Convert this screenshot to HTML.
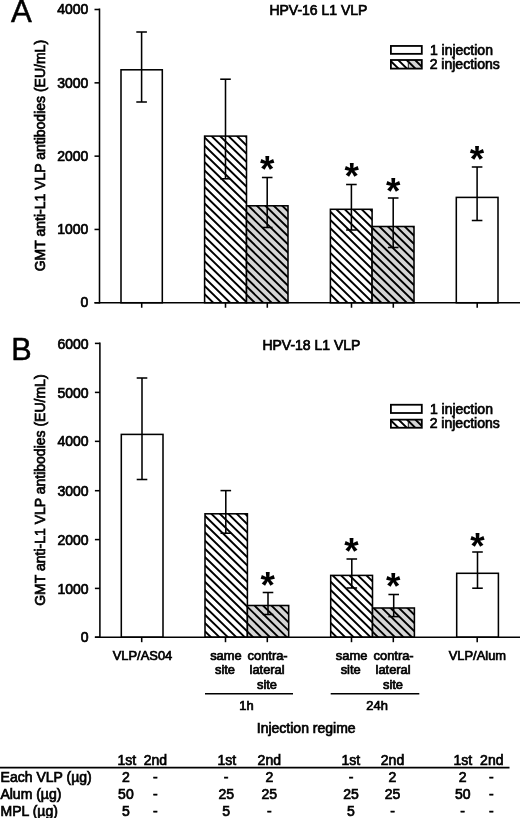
<!DOCTYPE html>
<html lang="en"><head><meta charset="utf-8"><title>Figure</title>
<style>
html,body{margin:0;padding:0;background:#fff;}
body{width:520px;height:818px;overflow:hidden;}
svg{display:block;will-change:transform;font-family:"Liberation Sans",sans-serif;fill:#000;}
</style></head><body>
<svg width="520" height="818" viewBox="0 0 520 818">
<rect width="520" height="818" fill="#fff"/>
<text x="10.9" y="21.6" font-size="31.2" stroke="#000" stroke-width="0.5">A</text>
<text x="269.4" y="14.6" font-size="14" stroke="#000" stroke-width="0.7">HPV-16 L1 VLP</text>
<text x="44.6" y="271.3" font-size="14" transform="rotate(-90 44.6 271.3)" stroke="#000" stroke-width="0.7">GMT anti-L1 VLP antibodies (EU/mL)</text>
<rect x="121.0" y="69.8" width="41.3" height="232.95" fill="#fff" stroke="#000" stroke-width="1.55"/>
<clipPath id="c1"><rect x="204.6" y="136.1" width="41.9" height="166.65"/></clipPath>
<rect x="204.6" y="136.1" width="41.9" height="166.65" fill="#fff"/>
<path d="M201.60 76.83L249.50 123.58M201.60 85.08L249.50 131.83M201.60 93.33L249.50 140.08M201.60 101.58L249.50 148.33M201.60 109.83L249.50 156.58M201.60 118.08L249.50 164.83M201.60 126.33L249.50 173.08M201.60 134.58L249.50 181.33M201.60 142.83L249.50 189.58M201.60 151.08L249.50 197.83M201.60 159.33L249.50 206.08M201.60 167.58L249.50 214.33M201.60 175.83L249.50 222.58M201.60 184.08L249.50 230.83M201.60 192.33L249.50 239.08M201.60 200.58L249.50 247.33M201.60 208.83L249.50 255.58M201.60 217.08L249.50 263.83M201.60 225.33L249.50 272.08M201.60 233.58L249.50 280.33M201.60 241.83L249.50 288.58M201.60 250.08L249.50 296.83M201.60 258.33L249.50 305.08M201.60 266.58L249.50 313.33M201.60 274.83L249.50 321.58M201.60 283.08L249.50 329.83M201.60 291.33L249.50 338.08M201.60 299.58L249.50 346.33M201.60 307.83L249.50 354.58M201.60 316.08L249.50 362.83" stroke="#000" stroke-width="1.9" fill="none" clip-path="url(#c1)"/>
<rect x="204.6" y="136.1" width="41.9" height="166.65" fill="none" stroke="#000" stroke-width="1.55"/>
<clipPath id="c2"><rect x="246.5" y="205.8" width="41.5" height="96.95"/></clipPath>
<rect x="246.5" y="205.8" width="41.5" height="96.95" fill="#d5d5d5"/>
<path d="M243.50 143.21L291.00 189.57M243.50 151.46L291.00 197.82M243.50 159.71L291.00 206.07M243.50 167.96L291.00 214.32M243.50 176.21L291.00 222.57M243.50 184.46L291.00 230.82M243.50 192.71L291.00 239.07M243.50 200.96L291.00 247.32M243.50 209.21L291.00 255.57M243.50 217.46L291.00 263.82M243.50 225.71L291.00 272.07M243.50 233.96L291.00 280.32M243.50 242.21L291.00 288.57M243.50 250.46L291.00 296.82M243.50 258.71L291.00 305.07M243.50 266.96L291.00 313.32M243.50 275.21L291.00 321.57M243.50 283.46L291.00 329.82M243.50 291.71L291.00 338.07M243.50 299.96L291.00 346.32M243.50 308.21L291.00 354.57M243.50 316.46L291.00 362.82" stroke="#000" stroke-width="1.9" fill="none" clip-path="url(#c2)"/>
<rect x="246.5" y="205.8" width="41.5" height="96.95" fill="none" stroke="#000" stroke-width="1.55"/>
<clipPath id="c3"><rect x="330.4" y="209.3" width="41.7" height="93.45"/></clipPath>
<rect x="330.4" y="209.3" width="41.7" height="93.45" fill="#fff"/>
<path d="M327.40 151.13L375.10 197.68M327.40 159.38L375.10 205.93M327.40 167.63L375.10 214.18M327.40 175.88L375.10 222.43M327.40 184.13L375.10 230.68M327.40 192.38L375.10 238.93M327.40 200.63L375.10 247.18M327.40 208.88L375.10 255.43M327.40 217.13L375.10 263.68M327.40 225.38L375.10 271.93M327.40 233.63L375.10 280.18M327.40 241.88L375.10 288.43M327.40 250.13L375.10 296.68M327.40 258.38L375.10 304.93M327.40 266.63L375.10 313.18M327.40 274.88L375.10 321.43M327.40 283.13L375.10 329.68M327.40 291.38L375.10 337.93M327.40 299.63L375.10 346.18M327.40 307.88L375.10 354.43M327.40 316.13L375.10 362.68" stroke="#000" stroke-width="1.9" fill="none" clip-path="url(#c3)"/>
<rect x="330.4" y="209.3" width="41.7" height="93.45" fill="none" stroke="#000" stroke-width="1.55"/>
<clipPath id="c4"><rect x="372.1" y="226.5" width="41.9" height="76.25"/></clipPath>
<rect x="372.1" y="226.5" width="41.9" height="76.25" fill="#d5d5d5"/>
<path d="M369.10 166.98L417.00 213.73M369.10 175.23L417.00 221.98M369.10 183.48L417.00 230.23M369.10 191.73L417.00 238.48M369.10 199.98L417.00 246.73M369.10 208.23L417.00 254.98M369.10 216.48L417.00 263.23M369.10 224.73L417.00 271.48M369.10 232.98L417.00 279.73M369.10 241.23L417.00 287.98M369.10 249.48L417.00 296.23M369.10 257.73L417.00 304.48M369.10 265.98L417.00 312.73M369.10 274.23L417.00 320.98M369.10 282.48L417.00 329.23M369.10 290.73L417.00 337.48M369.10 298.98L417.00 345.73M369.10 307.23L417.00 353.98M369.10 315.48L417.00 362.23" stroke="#000" stroke-width="1.9" fill="none" clip-path="url(#c4)"/>
<rect x="372.1" y="226.5" width="41.9" height="76.25" fill="none" stroke="#000" stroke-width="1.55"/>
<rect x="456.3" y="197.4" width="41.7" height="105.35" fill="#fff" stroke="#000" stroke-width="1.55"/>
<line x1="99.5" y1="8.525" x2="99.5" y2="303.525" stroke="#000" stroke-width="1.55"/>
<line x1="94.5" y1="302.75" x2="520" y2="302.75" stroke="#000" stroke-width="1.55"/>
<line x1="94.5" y1="9.5" x2="99.5" y2="9.5" stroke="#000" stroke-width="1.55"/>
<text x="88.3" y="14.2" font-size="14" text-anchor="end" stroke="#000" stroke-width="0.7">4000</text>
<line x1="94.5" y1="82.85" x2="99.5" y2="82.85" stroke="#000" stroke-width="1.55"/>
<text x="88.3" y="87.55" font-size="14" text-anchor="end" stroke="#000" stroke-width="0.7">3000</text>
<line x1="94.5" y1="156.15" x2="99.5" y2="156.15" stroke="#000" stroke-width="1.55"/>
<text x="88.3" y="160.85" font-size="14" text-anchor="end" stroke="#000" stroke-width="0.7">2000</text>
<line x1="94.5" y1="229.45" x2="99.5" y2="229.45" stroke="#000" stroke-width="1.55"/>
<text x="88.3" y="234.14999999999998" font-size="14" text-anchor="end" stroke="#000" stroke-width="0.7">1000</text>
<line x1="94.5" y1="302.75" x2="99.5" y2="302.75" stroke="#000" stroke-width="1.55"/>
<text x="88.3" y="307.45" font-size="14" text-anchor="end" stroke="#000" stroke-width="0.7">0</text>
<line x1="141.7" y1="302.75" x2="141.7" y2="307.75" stroke="#000" stroke-width="1.55"/>
<line x1="225.5" y1="302.75" x2="225.5" y2="307.75" stroke="#000" stroke-width="1.55"/>
<line x1="267.3" y1="302.75" x2="267.3" y2="307.75" stroke="#000" stroke-width="1.55"/>
<line x1="351.5" y1="302.75" x2="351.5" y2="307.75" stroke="#000" stroke-width="1.55"/>
<line x1="393.3" y1="302.75" x2="393.3" y2="307.75" stroke="#000" stroke-width="1.55"/>
<line x1="477.2" y1="302.75" x2="477.2" y2="307.75" stroke="#000" stroke-width="1.55"/>
<line x1="141.6" y1="32" x2="141.6" y2="102" stroke="#000" stroke-width="1.55"/>
<line x1="136.29999999999998" y1="32" x2="146.9" y2="32" stroke="#000" stroke-width="1.55"/>
<line x1="136.29999999999998" y1="102" x2="146.9" y2="102" stroke="#000" stroke-width="1.55"/>
<line x1="225.5" y1="79.2" x2="225.5" y2="178.8" stroke="#000" stroke-width="1.55"/>
<line x1="220.2" y1="79.2" x2="230.8" y2="79.2" stroke="#000" stroke-width="1.55"/>
<line x1="220.2" y1="178.8" x2="230.8" y2="178.8" stroke="#000" stroke-width="1.55"/>
<line x1="267.2" y1="177.5" x2="267.2" y2="227.5" stroke="#000" stroke-width="1.55"/>
<line x1="261.9" y1="177.5" x2="272.5" y2="177.5" stroke="#000" stroke-width="1.55"/>
<line x1="261.9" y1="227.5" x2="272.5" y2="227.5" stroke="#000" stroke-width="1.55"/>
<line x1="351.4" y1="184.5" x2="351.4" y2="230" stroke="#000" stroke-width="1.55"/>
<line x1="346.09999999999997" y1="184.5" x2="356.7" y2="184.5" stroke="#000" stroke-width="1.55"/>
<line x1="346.09999999999997" y1="230" x2="356.7" y2="230" stroke="#000" stroke-width="1.55"/>
<line x1="393.2" y1="198" x2="393.2" y2="247.5" stroke="#000" stroke-width="1.55"/>
<line x1="387.9" y1="198" x2="398.5" y2="198" stroke="#000" stroke-width="1.55"/>
<line x1="387.9" y1="247.5" x2="398.5" y2="247.5" stroke="#000" stroke-width="1.55"/>
<line x1="477.1" y1="167" x2="477.1" y2="220.5" stroke="#000" stroke-width="1.55"/>
<line x1="471.8" y1="167" x2="482.40000000000003" y2="167" stroke="#000" stroke-width="1.55"/>
<line x1="471.8" y1="220.5" x2="482.40000000000003" y2="220.5" stroke="#000" stroke-width="1.55"/>
<text x="267.2" y="182.25" font-size="37" text-anchor="middle" font-weight="bold">*</text>
<text x="351.6" y="189.25" font-size="37" text-anchor="middle" font-weight="bold">*</text>
<text x="393.2" y="203.55" font-size="37" text-anchor="middle" font-weight="bold">*</text>
<text x="476.9" y="172.0" font-size="37" text-anchor="middle" font-weight="bold">*</text>
<rect x="390.9" y="45.95" width="30.9" height="7.9" fill="#fff" stroke="#000" stroke-width="1.8"/>
<clipPath id="c5"><rect x="390.9" y="60.0" width="17.4" height="8.6"/></clipPath>
<rect x="390.9" y="60.0" width="17.4" height="8.6" fill="#fff"/>
<path d="M387.90 25.26L411.30 48.10M387.90 33.51L411.30 56.35M387.90 41.76L411.30 64.60M387.90 50.01L411.30 72.85M387.90 58.26L411.30 81.10M387.90 66.51L411.30 89.35M387.90 74.76L411.30 97.60M387.90 83.01L411.30 105.85" stroke="#000" stroke-width="1.9" fill="none" clip-path="url(#c5)"/>
<clipPath id="c6"><rect x="408.3" y="60.0" width="13.5" height="8.6"/></clipPath>
<rect x="408.3" y="60.0" width="13.5" height="8.6" fill="#d5d5d5"/>
<path d="M405.30 25.75L424.80 44.79M405.30 34.00L424.80 53.04M405.30 42.25L424.80 61.29M405.30 50.50L424.80 69.54M405.30 58.75L424.80 77.79M405.30 67.00L424.80 86.04M405.30 75.25L424.80 94.29M405.30 83.50L424.80 102.54" stroke="#000" stroke-width="1.9" fill="none" clip-path="url(#c6)"/>
<line x1="408.3" y1="60.0" x2="408.3" y2="68.6" stroke="#000" stroke-width="0.9"/>
<rect x="390.9" y="60.0" width="30.9" height="8.6" fill="none" stroke="#000" stroke-width="1.8"/>
<text x="429.9" y="54.7" font-size="14" stroke="#000" stroke-width="0.7">1 injection</text>
<text x="429.7" y="69.0" font-size="14" stroke="#000" stroke-width="0.7">2 injections</text>
<text x="11.2" y="359.5" font-size="30.6" stroke="#000" stroke-width="0.5">B</text>
<text x="262.4" y="350.0" font-size="14" stroke="#000" stroke-width="0.7">HPV-18 L1 VLP</text>
<text x="44.6" y="605.8" font-size="14" transform="rotate(-90 44.6 605.8)" stroke="#000" stroke-width="0.7">GMT anti-L1 VLP antibodies (EU/mL)</text>
<rect x="121.3" y="434.4" width="41.7" height="202.8" fill="#fff" stroke="#000" stroke-width="1.55"/>
<clipPath id="c7"><rect x="205.0" y="513.8" width="42.4" height="123.4"/></clipPath>
<rect x="205.0" y="513.8" width="42.4" height="123.4" fill="#fff"/>
<path d="M202.00 455.16L250.40 502.40M202.00 463.41L250.40 510.65M202.00 471.66L250.40 518.90M202.00 479.91L250.40 527.15M202.00 488.16L250.40 535.40M202.00 496.41L250.40 543.65M202.00 504.66L250.40 551.90M202.00 512.91L250.40 560.15M202.00 521.16L250.40 568.40M202.00 529.41L250.40 576.65M202.00 537.66L250.40 584.90M202.00 545.91L250.40 593.15M202.00 554.16L250.40 601.40M202.00 562.41L250.40 609.65M202.00 570.66L250.40 617.90M202.00 578.91L250.40 626.15M202.00 587.16L250.40 634.40M202.00 595.41L250.40 642.65M202.00 603.66L250.40 650.90M202.00 611.91L250.40 659.15M202.00 620.16L250.40 667.40M202.00 628.41L250.40 675.65M202.00 636.66L250.40 683.90M202.00 644.91L250.40 692.15M202.00 653.16L250.40 700.40" stroke="#000" stroke-width="1.9" fill="none" clip-path="url(#c7)"/>
<rect x="205.0" y="513.8" width="42.4" height="123.4" fill="none" stroke="#000" stroke-width="1.55"/>
<clipPath id="c8"><rect x="247.4" y="605.5" width="41.3" height="31.7"/></clipPath>
<rect x="247.4" y="605.5" width="41.3" height="31.7" fill="#d5d5d5"/>
<path d="M244.40 546.18L291.70 592.35M244.40 554.43L291.70 600.60M244.40 562.68L291.70 608.85M244.40 570.93L291.70 617.10M244.40 579.18L291.70 625.35M244.40 587.43L291.70 633.60M244.40 595.68L291.70 641.85M244.40 603.93L291.70 650.10M244.40 612.18L291.70 658.35M244.40 620.43L291.70 666.60M244.40 628.68L291.70 674.85M244.40 636.93L291.70 683.10M244.40 645.18L291.70 691.35M244.40 653.43L291.70 699.60" stroke="#000" stroke-width="1.9" fill="none" clip-path="url(#c8)"/>
<rect x="247.4" y="605.5" width="41.3" height="31.7" fill="none" stroke="#000" stroke-width="1.55"/>
<clipPath id="c9"><rect x="330.7" y="575.4" width="41.8" height="61.8"/></clipPath>
<rect x="330.7" y="575.4" width="41.8" height="61.8" fill="#fff"/>
<path d="M327.70 512.87L375.50 559.52M327.70 521.12L375.50 567.77M327.70 529.37L375.50 576.02M327.70 537.62L375.50 584.27M327.70 545.87L375.50 592.52M327.70 554.12L375.50 600.77M327.70 562.37L375.50 609.02M327.70 570.62L375.50 617.27M327.70 578.87L375.50 625.52M327.70 587.12L375.50 633.77M327.70 595.37L375.50 642.02M327.70 603.62L375.50 650.27M327.70 611.87L375.50 658.52M327.70 620.12L375.50 666.77M327.70 628.37L375.50 675.02M327.70 636.62L375.50 683.27M327.70 644.87L375.50 691.52M327.70 653.12L375.50 699.77" stroke="#000" stroke-width="1.9" fill="none" clip-path="url(#c9)"/>
<rect x="330.7" y="575.4" width="41.8" height="61.8" fill="none" stroke="#000" stroke-width="1.55"/>
<clipPath id="c10"><rect x="372.5" y="608.0" width="41.9" height="29.2"/></clipPath>
<rect x="372.5" y="608.0" width="41.9" height="29.2" fill="#d5d5d5"/>
<path d="M369.50 546.27L417.40 593.02M369.50 554.52L417.40 601.27M369.50 562.77L417.40 609.52M369.50 571.02L417.40 617.77M369.50 579.27L417.40 626.02M369.50 587.52L417.40 634.27M369.50 595.77L417.40 642.52M369.50 604.02L417.40 650.77M369.50 612.27L417.40 659.02M369.50 620.52L417.40 667.27M369.50 628.77L417.40 675.52M369.50 637.02L417.40 683.77M369.50 645.27L417.40 692.02M369.50 653.52L417.40 700.27" stroke="#000" stroke-width="1.9" fill="none" clip-path="url(#c10)"/>
<rect x="372.5" y="608.0" width="41.9" height="29.2" fill="none" stroke="#000" stroke-width="1.55"/>
<rect x="456.7" y="573.3" width="41.7" height="63.9" fill="#fff" stroke="#000" stroke-width="1.55"/>
<line x1="99.9" y1="342.52500000000003" x2="99.9" y2="637.975" stroke="#000" stroke-width="1.55"/>
<line x1="94.9" y1="637.2" x2="520" y2="637.2" stroke="#000" stroke-width="1.55"/>
<line x1="94.9" y1="343.4" x2="99.9" y2="343.4" stroke="#000" stroke-width="1.55"/>
<text x="88.6" y="348.5" font-size="14" text-anchor="end" stroke="#000" stroke-width="0.7">6000</text>
<line x1="94.9" y1="392.4" x2="99.9" y2="392.4" stroke="#000" stroke-width="1.55"/>
<text x="88.6" y="397.5" font-size="14" text-anchor="end" stroke="#000" stroke-width="0.7">5000</text>
<line x1="94.9" y1="441.35" x2="99.9" y2="441.35" stroke="#000" stroke-width="1.55"/>
<text x="88.6" y="446.45000000000005" font-size="14" text-anchor="end" stroke="#000" stroke-width="0.7">4000</text>
<line x1="94.9" y1="490.7" x2="99.9" y2="490.7" stroke="#000" stroke-width="1.55"/>
<text x="88.6" y="495.8" font-size="14" text-anchor="end" stroke="#000" stroke-width="0.7">3000</text>
<line x1="94.9" y1="539.6" x2="99.9" y2="539.6" stroke="#000" stroke-width="1.55"/>
<text x="88.6" y="544.7" font-size="14" text-anchor="end" stroke="#000" stroke-width="0.7">2000</text>
<line x1="94.9" y1="588.4" x2="99.9" y2="588.4" stroke="#000" stroke-width="1.55"/>
<text x="88.6" y="593.5" font-size="14" text-anchor="end" stroke="#000" stroke-width="0.7">1000</text>
<line x1="94.9" y1="637.2" x2="99.9" y2="637.2" stroke="#000" stroke-width="1.55"/>
<text x="88.6" y="642.3000000000001" font-size="14" text-anchor="end" stroke="#000" stroke-width="0.7">0</text>
<line x1="141.7" y1="637.2" x2="141.7" y2="642.2" stroke="#000" stroke-width="1.55"/>
<line x1="225.5" y1="637.2" x2="225.5" y2="642.2" stroke="#000" stroke-width="1.55"/>
<line x1="267.3" y1="637.2" x2="267.3" y2="642.2" stroke="#000" stroke-width="1.55"/>
<line x1="351.5" y1="637.2" x2="351.5" y2="642.2" stroke="#000" stroke-width="1.55"/>
<line x1="393.3" y1="637.2" x2="393.3" y2="642.2" stroke="#000" stroke-width="1.55"/>
<line x1="477.2" y1="637.2" x2="477.2" y2="642.2" stroke="#000" stroke-width="1.55"/>
<line x1="142" y1="378" x2="142" y2="479.5" stroke="#000" stroke-width="1.55"/>
<line x1="136.7" y1="378" x2="147.3" y2="378" stroke="#000" stroke-width="1.55"/>
<line x1="136.7" y1="479.5" x2="147.3" y2="479.5" stroke="#000" stroke-width="1.55"/>
<line x1="225.8" y1="490.6" x2="225.8" y2="533.2" stroke="#000" stroke-width="1.55"/>
<line x1="220.5" y1="490.6" x2="231.10000000000002" y2="490.6" stroke="#000" stroke-width="1.55"/>
<line x1="220.5" y1="533.2" x2="231.10000000000002" y2="533.2" stroke="#000" stroke-width="1.55"/>
<line x1="268" y1="592.5" x2="268" y2="614.5" stroke="#000" stroke-width="1.55"/>
<line x1="262.7" y1="592.5" x2="273.3" y2="592.5" stroke="#000" stroke-width="1.55"/>
<line x1="262.7" y1="614.5" x2="273.3" y2="614.5" stroke="#000" stroke-width="1.55"/>
<line x1="351.8" y1="559" x2="351.8" y2="588" stroke="#000" stroke-width="1.55"/>
<line x1="346.5" y1="559" x2="357.1" y2="559" stroke="#000" stroke-width="1.55"/>
<line x1="346.5" y1="588" x2="357.1" y2="588" stroke="#000" stroke-width="1.55"/>
<line x1="393.7" y1="594.5" x2="393.7" y2="616.6" stroke="#000" stroke-width="1.55"/>
<line x1="388.4" y1="594.5" x2="399.0" y2="594.5" stroke="#000" stroke-width="1.55"/>
<line x1="388.4" y1="616.6" x2="399.0" y2="616.6" stroke="#000" stroke-width="1.55"/>
<line x1="477.5" y1="552" x2="477.5" y2="588.2" stroke="#000" stroke-width="1.55"/>
<line x1="472.2" y1="552" x2="482.8" y2="552" stroke="#000" stroke-width="1.55"/>
<line x1="472.2" y1="588.2" x2="482.8" y2="588.2" stroke="#000" stroke-width="1.55"/>
<text x="267.6" y="597.5" font-size="37" text-anchor="middle" font-weight="bold">*</text>
<text x="351.4" y="564.25" font-size="37" text-anchor="middle" font-weight="bold">*</text>
<text x="393.2" y="599.25" font-size="37" text-anchor="middle" font-weight="bold">*</text>
<text x="477.5" y="558.8" font-size="37" text-anchor="middle" font-weight="bold">*</text>
<rect x="390.9" y="404.75" width="30.9" height="8.25" fill="#fff" stroke="#000" stroke-width="1.8"/>
<clipPath id="c11"><rect x="390.9" y="419.65" width="17.4" height="8.1"/></clipPath>
<rect x="390.9" y="419.65" width="17.4" height="8.1" fill="#fff"/>
<path d="M387.90 384.51L411.30 407.35M387.90 392.76L411.30 415.60M387.90 401.01L411.30 423.85M387.90 409.26L411.30 432.10M387.90 417.51L411.30 440.35M387.90 425.76L411.30 448.60M387.90 434.01L411.30 456.85M387.90 442.26L411.30 465.10" stroke="#000" stroke-width="1.9" fill="none" clip-path="url(#c11)"/>
<clipPath id="c12"><rect x="408.3" y="419.65" width="13.5" height="8.1"/></clipPath>
<rect x="408.3" y="419.65" width="13.5" height="8.1" fill="#d5d5d5"/>
<path d="M405.30 385.00L424.80 404.04M405.30 393.25L424.80 412.29M405.30 401.50L424.80 420.54M405.30 409.75L424.80 428.79M405.30 418.00L424.80 437.04M405.30 426.25L424.80 445.29M405.30 434.50L424.80 453.54M405.30 442.75L424.80 461.79" stroke="#000" stroke-width="1.9" fill="none" clip-path="url(#c12)"/>
<line x1="408.3" y1="419.65" x2="408.3" y2="427.75" stroke="#000" stroke-width="0.9"/>
<rect x="390.9" y="419.65" width="30.9" height="8.1" fill="none" stroke="#000" stroke-width="1.8"/>
<text x="429.9" y="413.6" font-size="14" stroke="#000" stroke-width="0.7">1 injection</text>
<text x="429.7" y="428.0" font-size="14" stroke="#000" stroke-width="0.7">2 injections</text>
<text x="142.5" y="660" font-size="12.9" text-anchor="middle" stroke="#000" stroke-width="0.7">VLP/AS04</text>
<text x="477.4" y="659.6" font-size="12.9" text-anchor="middle" stroke="#000" stroke-width="0.7">VLP/Alum</text>
<text x="225.9" y="659.5" font-size="12.9" text-anchor="middle" stroke="#000" stroke-width="0.7">same</text>
<text x="225.0" y="674.2" font-size="12.9" text-anchor="middle" stroke="#000" stroke-width="0.7">site</text>
<text x="351.6" y="659.5" font-size="12.9" text-anchor="middle" stroke="#000" stroke-width="0.7">same</text>
<text x="350.70000000000005" y="674.2" font-size="12.9" text-anchor="middle" stroke="#000" stroke-width="0.7">site</text>
<text x="267.6" y="659.5" font-size="12.9" text-anchor="middle" stroke="#000" stroke-width="0.7">contra-</text>
<text x="267.1" y="674.2" font-size="12.9" text-anchor="middle" stroke="#000" stroke-width="0.7">lateral</text>
<text x="267.0" y="688.8" font-size="12.9" text-anchor="middle" stroke="#000" stroke-width="0.7">site</text>
<text x="393.6" y="659.5" font-size="12.9" text-anchor="middle" stroke="#000" stroke-width="0.7">contra-</text>
<text x="393.1" y="674.2" font-size="12.9" text-anchor="middle" stroke="#000" stroke-width="0.7">lateral</text>
<text x="393.0" y="688.8" font-size="12.9" text-anchor="middle" stroke="#000" stroke-width="0.7">site</text>
<line x1="205" y1="693.8" x2="293" y2="693.8" stroke="#000" stroke-width="1.55"/>
<line x1="330.7" y1="693.8" x2="419.3" y2="693.8" stroke="#000" stroke-width="1.55"/>
<text x="246.5" y="709.6" font-size="12.9" text-anchor="middle" stroke="#000" stroke-width="0.7">1h</text>
<text x="377.1" y="709.6" font-size="12.9" text-anchor="middle" stroke="#000" stroke-width="0.7">24h</text>
<text x="256.8" y="733" font-size="14" stroke="#000" stroke-width="0.7">Injection regime</text>
<line x1="0" y1="767.6" x2="509.5" y2="767.6" stroke="#000" stroke-width="1.55"/>
<text x="126.9" y="764.6" font-size="14" text-anchor="middle" stroke="#000" stroke-width="0.7">1st</text>
<text x="155.4" y="764.6" font-size="14" text-anchor="middle" stroke="#000" stroke-width="0.7">2nd</text>
<text x="226.9" y="764.6" font-size="14" text-anchor="middle" stroke="#000" stroke-width="0.7">1st</text>
<text x="269.3" y="764.6" font-size="14" text-anchor="middle" stroke="#000" stroke-width="0.7">2nd</text>
<text x="350.9" y="764.6" font-size="14" text-anchor="middle" stroke="#000" stroke-width="0.7">1st</text>
<text x="392.5" y="764.6" font-size="14" text-anchor="middle" stroke="#000" stroke-width="0.7">2nd</text>
<text x="462.9" y="764.6" font-size="14" text-anchor="middle" stroke="#000" stroke-width="0.7">1st</text>
<text x="491.8" y="764.6" font-size="14" text-anchor="middle" stroke="#000" stroke-width="0.7">2nd</text>
<text x="0.6" y="781.8" font-size="14" stroke="#000" stroke-width="0.7">Each VLP (µg)</text>
<text x="0.4" y="799.2" font-size="14" stroke="#000" stroke-width="0.7">Alum (µg)</text>
<text x="0.5" y="816.1" font-size="14" stroke="#000" stroke-width="0.7">MPL (µg)</text>
<text x="125.9" y="781.8" font-size="14" text-anchor="middle" stroke="#000" stroke-width="0.7">2</text>
<text x="155.4" y="781.8" font-size="14" text-anchor="middle" stroke="#000" stroke-width="0.7">-</text>
<text x="226.2" y="781.8" font-size="14" text-anchor="middle" stroke="#000" stroke-width="0.7">-</text>
<text x="269.3" y="781.8" font-size="14" text-anchor="middle" stroke="#000" stroke-width="0.7">2</text>
<text x="351.0" y="781.8" font-size="14" text-anchor="middle" stroke="#000" stroke-width="0.7">-</text>
<text x="392.5" y="781.8" font-size="14" text-anchor="middle" stroke="#000" stroke-width="0.7">2</text>
<text x="462.7" y="781.8" font-size="14" text-anchor="middle" stroke="#000" stroke-width="0.7">2</text>
<text x="491.3" y="781.8" font-size="14" text-anchor="middle" stroke="#000" stroke-width="0.7">-</text>
<text x="125.9" y="799.1" font-size="14" text-anchor="middle" stroke="#000" stroke-width="0.7">50</text>
<text x="155.4" y="799.1" font-size="14" text-anchor="middle" stroke="#000" stroke-width="0.7">-</text>
<text x="226.2" y="799.1" font-size="14" text-anchor="middle" stroke="#000" stroke-width="0.7">25</text>
<text x="269.3" y="799.1" font-size="14" text-anchor="middle" stroke="#000" stroke-width="0.7">25</text>
<text x="351.0" y="799.1" font-size="14" text-anchor="middle" stroke="#000" stroke-width="0.7">25</text>
<text x="392.5" y="799.1" font-size="14" text-anchor="middle" stroke="#000" stroke-width="0.7">25</text>
<text x="462.7" y="799.1" font-size="14" text-anchor="middle" stroke="#000" stroke-width="0.7">50</text>
<text x="491.3" y="799.1" font-size="14" text-anchor="middle" stroke="#000" stroke-width="0.7">-</text>
<text x="125.9" y="816.0" font-size="14" text-anchor="middle" stroke="#000" stroke-width="0.7">5</text>
<text x="155.4" y="816.0" font-size="14" text-anchor="middle" stroke="#000" stroke-width="0.7">-</text>
<text x="226.2" y="816.0" font-size="14" text-anchor="middle" stroke="#000" stroke-width="0.7">5</text>
<text x="269.3" y="816.0" font-size="14" text-anchor="middle" stroke="#000" stroke-width="0.7">-</text>
<text x="351.0" y="816.0" font-size="14" text-anchor="middle" stroke="#000" stroke-width="0.7">5</text>
<text x="392.5" y="816.0" font-size="14" text-anchor="middle" stroke="#000" stroke-width="0.7">-</text>
<text x="462.7" y="816.0" font-size="14" text-anchor="middle" stroke="#000" stroke-width="0.7">-</text>
<text x="491.3" y="816.0" font-size="14" text-anchor="middle" stroke="#000" stroke-width="0.7">-</text>
</svg></body></html>
